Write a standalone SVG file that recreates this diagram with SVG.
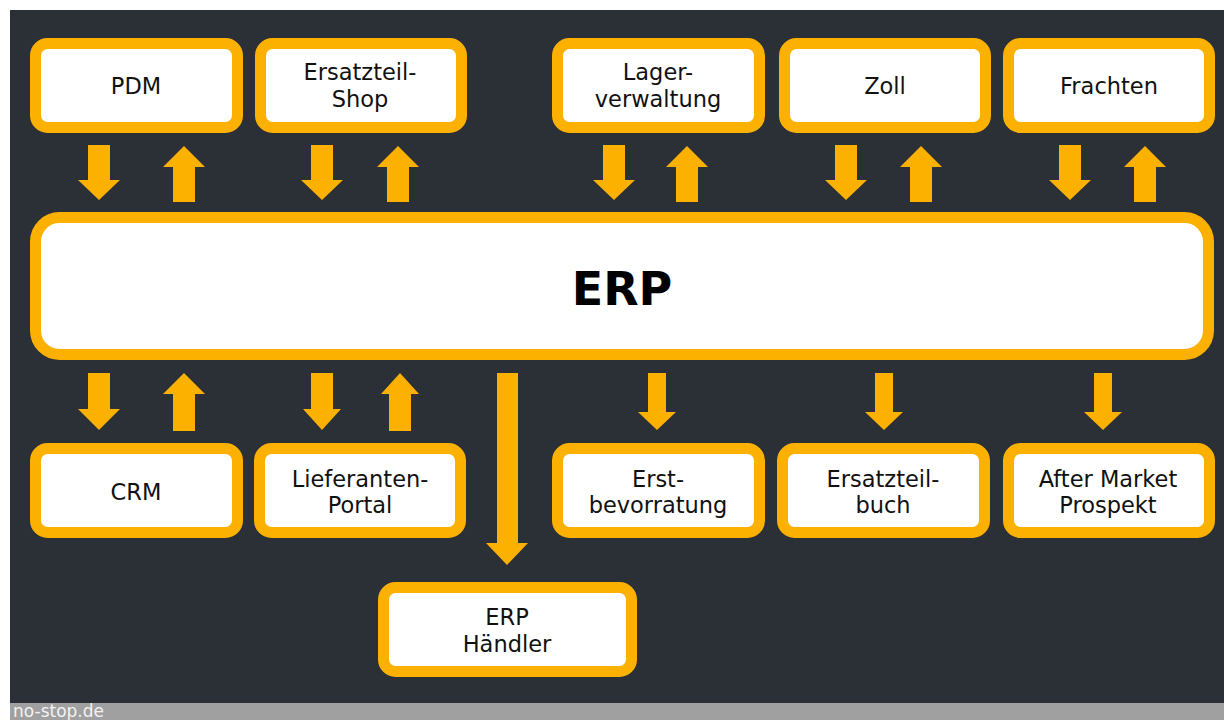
<svg xmlns="http://www.w3.org/2000/svg" width="1224" height="720" viewBox="0 0 1224 720">
<defs>
<style>
.box{fill:#ffffff;stroke:#fcb000;stroke-width:11}
.lbl{font-family:"DejaVu Sans",Verdana,sans-serif;font-size:22.5px;fill:#111111;text-anchor:middle}
.big{font-family:"DejaVu Sans",Verdana,sans-serif;font-size:46px;font-weight:bold;fill:#000000;text-anchor:middle}
.arr{fill:#fcb000}
</style>
</defs>
<rect x="0" y="0" width="1224" height="720" fill="#ffffff"/>
<rect x="10" y="10" width="1214" height="693" fill="#2b2f36"/>
<rect x="0" y="703" width="1224" height="17" fill="#a0a0a0"/>
<rect x="0" y="10" width="10" height="710" fill="#ffffff"/>
<text x="13" y="717" font-family="DejaVu Sans,Verdana,sans-serif" font-size="17" fill="#f2f2f2">no-stop.de</text>

<g id="erp"><rect class="box" x="35.5" y="217.5" width="1173" height="137" rx="24"/><text class="big" x="622" y="305">ERP</text></g>

<g id="pdm"><rect class="box" x="35.5" y="43.5" width="202" height="84" rx="12"/><text class="lbl" x="136" y="94">PDM</text></g>
<g id="ersatzteilshop"><rect class="box" x="260.5" y="43.5" width="201" height="84" rx="12"/><text class="lbl" x="360" y="80">Ersatzteil-</text><text class="lbl" x="360" y="107">Shop</text></g>
<g id="lager"><rect class="box" x="557.5" y="43.5" width="202" height="84" rx="12"/><text class="lbl" x="658" y="80">Lager-</text><text class="lbl" x="658" y="107">verwaltung</text></g>
<g id="zoll"><rect class="box" x="784.5" y="43.5" width="201" height="84" rx="12"/><text class="lbl" x="885" y="94">Zoll</text></g>
<g id="frachten"><rect class="box" x="1008.5" y="43.5" width="201" height="84" rx="12"/><text class="lbl" x="1109" y="94">Frachten</text></g>

<g id="crm"><rect class="box" x="35.5" y="448.5" width="202" height="84" rx="12"/><text class="lbl" x="136" y="500">CRM</text></g>
<g id="lieferanten"><rect class="box" x="259.5" y="448.5" width="201" height="84" rx="12"/><text class="lbl" x="360" y="487">Lieferanten-</text><text class="lbl" x="360" y="513">Portal</text></g>
<g id="erst"><rect class="box" x="557.5" y="448.5" width="202" height="84" rx="12"/><text class="lbl" x="658" y="487">Erst-</text><text class="lbl" x="658" y="513">bevorratung</text></g>
<g id="ersatzteilbuch"><rect class="box" x="782.5" y="448.5" width="202" height="84" rx="12"/><text class="lbl" x="883" y="487">Ersatzteil-</text><text class="lbl" x="883" y="513">buch</text></g>
<g id="aftermarket"><rect class="box" x="1008.5" y="448.5" width="201" height="84" rx="12"/><text class="lbl" x="1108" y="487">After Market</text><text class="lbl" x="1108" y="513">Prospekt</text></g>
<g id="haendler"><rect class="box" x="383.5" y="587.5" width="248" height="84" rx="12"/><text class="lbl" x="507" y="625">ERP</text><text class="lbl" x="507" y="652">Händler</text></g>

<g id="connectors">
<path class="arr" d="M88,145 H110 V180 H120 L99,200 L78,180 H88 Z"/>
<path class="arr" d="M311,145 H333 V180 H343 L322,200 L301,180 H311 Z"/>
<path class="arr" d="M603,145 H625 V180 H635 L614,200 L593,180 H603 Z"/>
<path class="arr" d="M835,145 H857 V180 H867 L846,200 L825,180 H835 Z"/>
<path class="arr" d="M1059,145 H1081 V180 H1091 L1070,200 L1049,180 H1059 Z"/>
<path class="arr" d="M173,202 H195 V167 H205 L184,146 L163,167 H173 Z"/>
<path class="arr" d="M387,202 H409 V167 H419 L398,146 L377,167 H387 Z"/>
<path class="arr" d="M676,202 H698 V167 H708 L687,146 L666,167 H676 Z"/>
<path class="arr" d="M910,202 H932 V167 H942 L921,146 L900,167 H910 Z"/>
<path class="arr" d="M1134,202 H1156 V167 H1166 L1145,146 L1124,167 H1134 Z"/>
<path class="arr" d="M88,373 H110 V409 H120 L99,430 L78,409 H88 Z"/>
<path class="arr" d="M173,431 H195 V394 H205 L184,373 L163,394 H173 Z"/>
<path class="arr" d="M311,373 H333 V409 H341 L322,430 L303,409 H311 Z"/>
<path class="arr" d="M389,431 H411 V394 H419 L400,373 L381,394 H389 Z"/>
<path class="arr" d="M497,373 H518 V543 H528 L507,565 L486,543 H497 Z"/>
<path class="arr" d="M648,373 H666 V412 H676 L657,430 L638,412 H648 Z"/>
<path class="arr" d="M875,373 H893 V412 H903 L884,430 L865,412 H875 Z"/>
<path class="arr" d="M1094,373 H1112 V412 H1122 L1103,430 L1084,412 H1094 Z"/>
</g>
</svg>
